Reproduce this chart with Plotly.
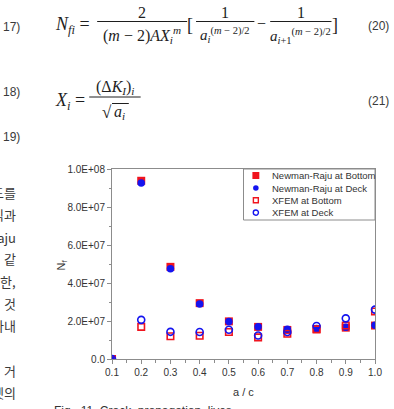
import plotly.graph_objects as go

# ---------------- data ----------------
a_over_c = [0.1, 0.2, 0.3, 0.4, 0.5, 0.6, 0.7, 0.8, 0.9, 1.0]
nr_bottom = [0, 93.8e6, 48.5e6, 29.4e6, 19.8e6, 16.9e6, 15.3e6, 15.8e6, 16.5e6, 17.6e6]
nr_deck = [0, 92.6e6, 47.5e6, 29.0e6, 19.7e6, 17.0e6, 15.6e6, 16.1e6, 16.7e6, 17.7e6]
xfem_bottom = [0, 16.9e6, 12.0e6, 12.2e6, 14.2e6, 11.4e6, 13.3e6, 15.6e6, 17.6e6, 25.0e6]
xfem_deck = [0, 20.6e6, 14.3e6, 14.2e6, 15.4e6, 12.4e6, 14.2e6, 17.4e6, 21.4e6, 26.0e6]

series_names = ["Newman-Raju at Bottom", "Newman-Raju at Deck", "XFEM at Bottom", "XFEM at Deck"]
x_ticks = [0.1, 0.2, 0.3, 0.4, 0.5, 0.6, 0.7, 0.8, 0.9, 1.0]
x_tick_labels = ["0.1", "0.2", "0.3", "0.4", "0.5", "0.6", "0.7", "0.8", "0.9", "1.0"]
y_ticks = [0, 2e7, 4e7, 6e7, 8e7, 1e8]
y_tick_labels = ["0.0", "2.0E+07", "4.0E+07", "6.0E+07", "8.0E+07", "1.0E+08"]
korean_fragments = ["도를", "식과", "Raju", "같", "또한,", "것", "타내", "거", "켓의", "표"]

RED = "#f0141e"
BLUE = "#1414f0"

# ---------------- geometry (pixels) ----------------
FW, FH = 394, 409
L, R, T, B = 112, 378, 169, 359
W, H = R - L, B - T


def px(x):
    return (x - L) / W


def py(y):
    return (B - y) / H


fig = go.Figure()
fig.add_trace(go.Scatter(x=a_over_c, y=nr_bottom, mode="markers", name=series_names[0],
                         marker=dict(symbol="square", size=8, color=RED, line=dict(width=0))))
fig.add_trace(go.Scatter(x=a_over_c, y=nr_deck, mode="markers", name=series_names[1],
                         marker=dict(symbol="circle", size=7.5, color=BLUE, line=dict(width=0))))
fig.add_trace(go.Scatter(x=a_over_c, y=xfem_bottom, mode="markers", name=series_names[2],
                         marker=dict(symbol="square-open", size=6.5, color=RED, line=dict(width=1.6))))
fig.add_trace(go.Scatter(x=a_over_c, y=xfem_deck, mode="markers", name=series_names[3],
                         marker=dict(symbol="circle-open", size=7, color=BLUE, line=dict(width=1.6))))

AX = "#8c8c8c"
TXT = "#333333"
fig.update_layout(
    width=FW, height=FH, autosize=False,
    margin=dict(l=L, r=FW - R, t=T, b=FH - B, pad=0),
    paper_bgcolor="white", plot_bgcolor="white",
    showlegend=False,
    font=dict(family="Arial, Liberation Sans, sans-serif", size=10, color=TXT),
)
fig.update_xaxes(range=[0.1, 1.0], tickvals=x_ticks, ticktext=x_tick_labels,
                 showgrid=False, zeroline=False, showline=True, linecolor=AX, linewidth=1,
                 mirror=True, ticks="outside", ticklen=4, tickcolor=AX, tickwidth=1,
                 tickfont=dict(size=10, color=TXT),
                 minor=dict(dtick=0.05, tick0=0.1, ticks="outside", ticklen=2.5, tickcolor=AX, showgrid=False))
fig.update_yaxes(range=[0, 1e8], tickvals=y_ticks, ticktext=y_tick_labels,
                 showgrid=False, zeroline=False, showline=True, linecolor=AX, linewidth=1,
                 mirror=True, ticks="outside", ticklen=4, tickcolor=AX, tickwidth=1,
                 tickfont=dict(size=10, color=TXT),
                 minor=dict(dtick=1e7, tick0=0, ticks="outside", ticklen=2.5, tickcolor=AX, showgrid=False))

ann = []
shapes = []


def text(t, x, y, size=12, xa="center", ya="middle", family="Arial, Liberation Sans, sans-serif",
         color=TXT, angle=0):
    ann.append(dict(text=t, x=px(x), y=py(y), xref="paper", yref="paper", showarrow=False,
                    xanchor=xa, yanchor=ya, textangle=angle,
                    font=dict(size=size, family=family, color=color)))


def hline(x0, x1, y, color="#222", w=1):
    shapes.append(dict(type="line", xref="paper", yref="paper", x0=px(x0), x1=px(x1),
                       y0=py(y), y1=py(y), line=dict(color=color, width=w)))


# axis titles
text("a / c", 245, 392, size=11)
text("N<sub>f</sub>", 61, 265, size=11, angle=-90)

# custom compact legend
shapes.append(dict(type="rect", xref="paper", yref="paper", x0=px(245), x1=px(R), y0=py(220), y1=py(T),
                   line=dict(color=AX, width=1), fillcolor="white", layer="above"))
rows = [175.5, 188, 200.3, 212.6]
mx = 257.5
shapes.append(dict(type="rect", xref="paper", yref="paper", x0=px(mx - 3.5), x1=px(mx + 3.5),
                   y0=py(rows[0] + 3.5), y1=py(rows[0] - 3.5), line=dict(width=0), fillcolor=RED))
shapes.append(dict(type="circle", xref="paper", yref="paper", x0=px(mx - 2.8), x1=px(mx + 2.8),
                   y0=py(rows[1] + 2.8), y1=py(rows[1] - 2.8), line=dict(width=0), fillcolor=BLUE))
shapes.append(dict(type="rect", xref="paper", yref="paper", x0=px(mx - 2.5), x1=px(mx + 2.5),
                   y0=py(rows[2] + 2.5), y1=py(rows[2] - 2.5), line=dict(width=1.4, color=RED)))
shapes.append(dict(type="circle", xref="paper", yref="paper", x0=px(mx - 2.6), x1=px(mx + 2.6),
                   y0=py(rows[3] + 2.6), y1=py(rows[3] - 2.6), line=dict(width=1.4, color=BLUE)))
for name, ry in zip(series_names, rows):
    text(name, 271.5, ry, size=9.5, xa="left")

# caption
text("Fig.  11  Crack  propagation  lives", 51, 402, size=12, xa="left", ya="top")

# left column Korean text fragments
kr_y = [192, 214, 237, 258, 281, 303, 325, 370, 392, 414]
for frag, yy in zip(korean_fragments, kr_y):
    text(frag, 17, yy, size=13, xa="right", family="Noto Sans CJK KR", color="#3a3a3a")

# equation numbers
for lbl, yy in [("17)", 27), ("18)", 92), ("19)", 137)]:
    text(lbl, 0, yy, size=12, xa="left", color="#3a3a3a")
text("(20)", 394, 26, size=12, xa="right", color="#3a3a3a")
text("(21)", 394, 101, size=12, xa="right", color="#3a3a3a")

SERIF = "Liberation Serif, DejaVu Serif, serif"
EQ = "#1e1e1e"
# equation (20)
text("<i>N</i><sub><i>fi</i></sub> =", 52, 25, size=18, xa="left", family=SERIF, color=EQ)
hline(97, 188, 21.5, EQ, 1)
text("2", 142, 12, size=16, family=SERIF, color=EQ)
text("(<i>m</i> − 2)<i>AX</i><sub><i>i</i></sub><sup><i>m</i></sup>", 142, 35, size=16, family=SERIF, color=EQ)
text("[", 191, 25, size=18, family=SERIF, color=EQ)
hline(197, 256, 21.5, EQ, 1)
text("1", 226, 12, size=16, family=SERIF, color=EQ)
text("<i>a</i><sub><i>i</i></sub><sup>(<i>m</i> − 2)/2</sup>", 226, 35, size=15, family=SERIF, color=EQ)
text("−", 263, 23, size=16, family=SERIF, color=EQ)
hline(272, 334, 21.5, EQ, 1)
text("1", 303, 12, size=16, family=SERIF, color=EQ)
text("<i>a</i><sub><i>i</i>+1</sub><sup>(<i>m</i> − 2)/2</sup>", 303, 36, size=15, family=SERIF, color=EQ)
text("]", 338, 25, size=18, family=SERIF, color=EQ)

# equation (21)
text("<i>X</i><sub><i>i</i></sub> =", 52, 101, size=18, xa="left", family=SERIF, color=EQ)
hline(89, 141, 97, EQ, 1)
text("(Δ<i>K</i><sub><i>I</i></sub>)<sub><i>i</i></sub>", 115, 87, size=16, family=SERIF, color=EQ)
text("√", 107, 112, size=17, family=SERIF, color=EQ)
hline(112, 129, 103.5, EQ, 1)
text("<i>a</i><sub><i>i</i></sub>", 120, 112, size=16, family=SERIF, color=EQ)

fig.update_layout(annotations=ann, shapes=shapes)
fig.write_html("out.html")
